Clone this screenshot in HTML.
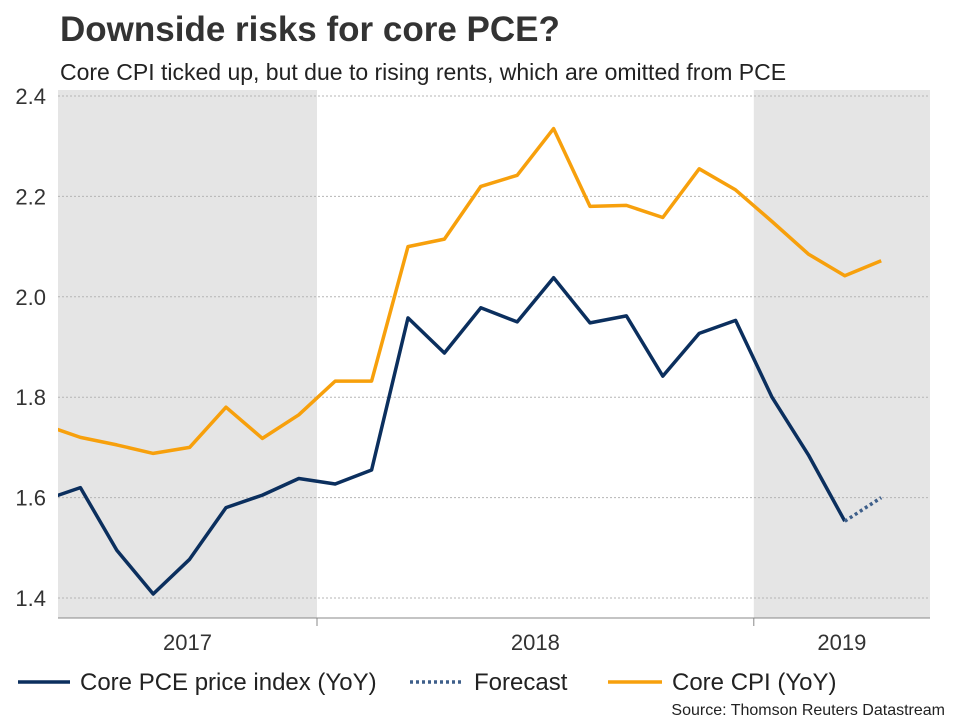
<!DOCTYPE html>
<html><head><meta charset="utf-8"><style>
body{margin:0;background:#fff;font-family:"Liberation Sans",Arial,sans-serif;}
svg{display:block}
</style></head><body>
<svg id="chart" width="960" height="720" xmlns="http://www.w3.org/2000/svg">
<text x="60" y="41" font-size="35" font-weight="bold" fill="#333">Downside risks for core PCE?</text>
<text x="60" y="80" font-size="23" fill="#222">Core CPI ticked up, but due to rising rents, which are omitted from PCE</text>
<defs><clipPath id="clip"><rect x="58" y="90" width="872" height="528"/></clipPath></defs>
<g id="shades"></g>
<g id="grid"></g>
<g id="ylabels"></g>
<line x1="58" y1="618" x2="930" y2="618" stroke="#888" stroke-width="1"/>
<g id="xlabels"></g>
<g id="series" clip-path="url(#clip)"></g>
<g>
<line x1="18" y1="682" x2="70" y2="682" stroke="#0b2f5e" stroke-width="3.5"/>
<text x="80" y="690" font-size="24" fill="#222">Core PCE price index (YoY)</text>
<line x1="410" y1="682" x2="464" y2="682" stroke="#3e5f8a" stroke-width="3.5" stroke-dasharray="3,3"/>
<text x="474" y="690" font-size="24" fill="#222">Forecast</text>
<line x1="608" y1="682" x2="662" y2="682" stroke="#f7a00c" stroke-width="3.5"/>
<text x="672" y="690" font-size="24" fill="#222">Core CPI (YoY)</text>
</g>
<text x="945" y="715" font-size="16" fill="#222" text-anchor="end">Source: Thomson Reuters Datastream</text>
</svg>
<script>
const months = ["2017-05","2017-06","2017-07","2017-08","2017-09","2017-10","2017-11","2017-12","2018-01","2018-02","2018-03","2018-04","2018-05","2018-06","2018-07","2018-08","2018-09","2018-10","2018-11","2018-12","2019-01","2019-02","2019-03","2019-04"];
const cpi = [1.745,1.72,1.705,1.688,1.70,1.78,1.718,1.765,1.832,1.832,2.10,2.115,2.22,2.242,2.335,2.18,2.182,2.158,2.255,2.213,2.15,2.085,2.042,2.072];
const pce = [1.595,1.62,1.495,1.408,1.477,1.58,1.605,1.638,1.627,1.655,1.958,1.888,1.978,1.95,2.038,1.948,1.962,1.842,1.927,1.953,1.80,1.685,1.553,null];
const forecast = [null,null,null,null,null,null,null,null,null,null,null,null,null,null,null,null,null,null,null,null,null,null,1.553,1.60];
const yTicks = [1.4,1.6,1.8,2.0,2.2,2.4];
const yearLabels = ["2017","2018","2019"];
const yearStarts = [-4,8,20];
const NS="http://www.w3.org/2000/svg";
const X = i => 44 + 36.4*i;
const Y = v => 598 - (v-1.4)*502;
function mk(tag,attrs,parent){const e=document.createElementNS(NS,tag);for(const k in attrs)e.setAttribute(k,attrs[k]);document.getElementById(parent).appendChild(e);return e;}
const b1 = X(yearStarts[1]-0.5), b2 = X(yearStarts[2]-0.5);
let r=mk('rect',{x:58,y:90,width:b1-58,height:528,fill:'#e5e5e5'},'shades');


r=mk('rect',{x:b2,y:90,width:930-b2,height:528,fill:'#e5e5e5'},'shades');


yTicks.forEach(t=>{
 const g=mk('line',{x1:58,x2:930,y1:Y(t),y2:Y(t),stroke:'#b5b5b5','stroke-dasharray':'2,2','stroke-width':1},'grid');
 
 
 const tx=mk('text',{x:46,y:Y(t)+8,'font-size':22,fill:'#333','text-anchor':'end'},'ylabels');
 tx.textContent=t.toFixed(1);
 
 
});
[b1,b2].forEach(x=>{const l=mk('line',{x1:x,x2:x,y1:618,y2:626,stroke:'#888'},'xlabels');
 
 });
const centers=[(58+b1)/2,(b1+b2)/2,(b2+930)/2];
yearLabels.forEach((y,i)=>{const t=mk('text',{x:centers[i],y:650,'font-size':22,fill:'#333','text-anchor':'middle'},'xlabels');
 t.textContent=y;
 
 });
function path(vals){let d='';vals.forEach((v,i)=>{if(v==null)return;d+=(d?'L':'M')+X(i).toFixed(1)+','+Y(v).toFixed(1);});return d;}
let p=mk('path',{d:path(cpi),fill:'none',stroke:'#f7a00c','stroke-width':3.5,'stroke-linejoin':'round'},'series');


p=mk('path',{d:path(pce),fill:'none',stroke:'#0b2f5e','stroke-width':3.5,'stroke-linejoin':'round'},'series');


p=mk('path',{d:path(forecast),fill:'none',stroke:'#3e5f8a','stroke-width':3.5,'stroke-dasharray':'3,3'},'series');


</script>
</body></html>
